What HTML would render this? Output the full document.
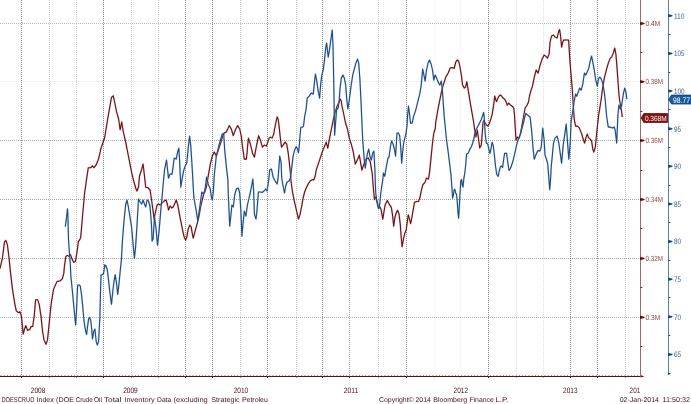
<!DOCTYPE html>
<html><head><meta charset="utf-8"><style>
html,body{margin:0;padding:0;background:#fff;}
body{width:691px;height:404px;overflow:hidden;}
svg{display:block;}
text{font-family:"Liberation Sans",sans-serif;text-rendering:geometricPrecision;}
</style></head><body>
<svg width="691" height="404" viewBox="0 0 691 404">
<rect width="691" height="404" fill="#fff"/>

<g stroke="#666" stroke-width="1" stroke-dasharray="1 1">
<line x1="21.5" y1="0" x2="21.5" y2="376" stroke-opacity="0.8"/>
<line x1="49.5" y1="0" x2="49.5" y2="376" stroke-opacity="0.32"/>
<line x1="76.5" y1="0" x2="76.5" y2="376" stroke-opacity="0.32"/>
<line x1="103.5" y1="0" x2="103.5" y2="376" stroke-opacity="0.8"/>
<line x1="131.5" y1="0" x2="131.5" y2="376" stroke-opacity="0.32"/>
<line x1="158.5" y1="0" x2="158.5" y2="376" stroke-opacity="0.32"/>
<line x1="185.5" y1="0" x2="185.5" y2="376" stroke-opacity="0.8"/>
<line x1="212.5" y1="0" x2="212.5" y2="376" stroke-opacity="0.8"/>
<line x1="240.5" y1="0" x2="240.5" y2="376" stroke-opacity="0.32"/>
<line x1="267.5" y1="0" x2="267.5" y2="376" stroke-opacity="0.8"/>
<line x1="296.5" y1="0" x2="296.5" y2="376" stroke-opacity="0.32"/>
<line x1="322.5" y1="0" x2="322.5" y2="376" stroke-opacity="0.8"/>
<line x1="349.5" y1="0" x2="349.5" y2="376" stroke-opacity="0.55"/>
<line x1="378.5" y1="0" x2="378.5" y2="376" stroke-opacity="0.32"/>
<line x1="406.5" y1="0" x2="406.5" y2="376" stroke-opacity="0.8"/>
<line x1="434.5" y1="0" x2="434.5" y2="376" stroke-opacity="0.07"/>
<line x1="460.5" y1="0" x2="460.5" y2="376" stroke-opacity="0.08"/>
<line x1="488.5" y1="0" x2="488.5" y2="376" stroke-opacity="0.8"/>
<line x1="516.5" y1="0" x2="516.5" y2="376" stroke-opacity="0.21"/>
<line x1="543.5" y1="0" x2="543.5" y2="376" stroke-opacity="0.21"/>
<line x1="570.5" y1="0" x2="570.5" y2="376" stroke-opacity="0.8"/>
<line x1="597.5" y1="0" x2="597.5" y2="376" stroke-opacity="0.8"/>
<line x1="625.5" y1="0" x2="625.5" y2="376" stroke-opacity="0.32"/>
</g>
<g stroke="#666" stroke-width="1" stroke-dasharray="1 1">
<line x1="0" y1="23.5" x2="640.5" y2="23.5" stroke-opacity="0.45"/>
<line x1="0" y1="81.5" x2="640.5" y2="81.5" stroke-opacity="0.15"/>
<line x1="0" y1="140.5" x2="640.5" y2="140.5" stroke-opacity="0.58"/>
<line x1="0" y1="199.5" x2="640.5" y2="199.5" stroke-opacity="0.62"/>
<line x1="0" y1="258.5" x2="640.5" y2="258.5" stroke-opacity="0.62"/>
<line x1="0" y1="317.5" x2="640.5" y2="317.5" stroke-opacity="0.5"/>
</g>
<line x1="0" y1="376.5" x2="640.5" y2="376.5" stroke="#5a1414" stroke-width="1"/>
<line x1="0.5" y1="375.5" x2="640.5" y2="375.5" stroke="#8a4a4a" stroke-width="1" stroke-dasharray="1 2.2" stroke-opacity="0.7"/>
<path d="M640.5 375 L644.5 376.5 L640.5 377.5Z" fill="#6b1a1a"/>
<g stroke="#6b1a1a" stroke-width="1">
<line x1="21.5" y1="376" x2="21.5" y2="378" stroke-opacity="1"/>
<line x1="49.5" y1="376" x2="49.5" y2="378" stroke-opacity="0.52"/>
<line x1="76.5" y1="376" x2="76.5" y2="378" stroke-opacity="0.52"/>
<line x1="103.5" y1="376" x2="103.5" y2="378" stroke-opacity="1"/>
<line x1="131.5" y1="376" x2="131.5" y2="378" stroke-opacity="0.52"/>
<line x1="158.5" y1="376" x2="158.5" y2="378" stroke-opacity="0.52"/>
<line x1="185.5" y1="376" x2="185.5" y2="378" stroke-opacity="1"/>
<line x1="212.5" y1="376" x2="212.5" y2="378" stroke-opacity="1"/>
<line x1="240.5" y1="376" x2="240.5" y2="378" stroke-opacity="0.52"/>
<line x1="267.5" y1="376" x2="267.5" y2="378" stroke-opacity="1"/>
<line x1="296.5" y1="376" x2="296.5" y2="378" stroke-opacity="0.52"/>
<line x1="322.5" y1="376" x2="322.5" y2="378" stroke-opacity="1"/>
<line x1="349.5" y1="376" x2="349.5" y2="378" stroke-opacity="0.75"/>
<line x1="378.5" y1="376" x2="378.5" y2="378" stroke-opacity="0.52"/>
<line x1="406.5" y1="376" x2="406.5" y2="378" stroke-opacity="1"/>
<line x1="434.5" y1="376" x2="434.5" y2="378" stroke-opacity="0.27"/>
<line x1="460.5" y1="376" x2="460.5" y2="378" stroke-opacity="0.28"/>
<line x1="488.5" y1="376" x2="488.5" y2="378" stroke-opacity="1"/>
<line x1="516.5" y1="376" x2="516.5" y2="378" stroke-opacity="0.41000000000000003"/>
<line x1="543.5" y1="376" x2="543.5" y2="378" stroke-opacity="0.41000000000000003"/>
<line x1="570.5" y1="376" x2="570.5" y2="378" stroke-opacity="1"/>
<line x1="597.5" y1="376" x2="597.5" y2="378" stroke-opacity="1"/>
<line x1="625.5" y1="376" x2="625.5" y2="378" stroke-opacity="0.52"/>
</g>
<line x1="640.5" y1="0" x2="640.5" y2="376" stroke="#a06868" stroke-width="1"/>
<path d="M640.0 22.0 L642.0 22.3 L644.5 23.1 L644.5 24.1 L642.0 24.8 L640.0 25.1Z" fill="#6a0a0a"/>
<text x="645.6" y="26.2" font-size="7.4" fill="#934040" textLength="14.6" lengthAdjust="spacingAndGlyphs">0.4M</text>
<path d="M640.0 80.1 L642.0 80.39999999999999 L644.5 81.19999999999999 L644.5 82.19999999999999 L642.0 82.89999999999999 L640.0 83.19999999999999Z" fill="#6a0a0a"/>
<text x="645.6" y="84.3" font-size="7.4" fill="#934040" textLength="17.5" lengthAdjust="spacingAndGlyphs">0.38M</text>
<path d="M640.0 139.0 L642.0 139.3 L644.5 140.1 L644.5 141.1 L642.0 141.8 L640.0 142.1Z" fill="#6a0a0a"/>
<text x="645.6" y="143.2" font-size="7.4" fill="#934040" textLength="17.5" lengthAdjust="spacingAndGlyphs">0.36M</text>
<path d="M640.0 198.0 L642.0 198.3 L644.5 199.1 L644.5 200.1 L642.0 200.8 L640.0 201.1Z" fill="#6a0a0a"/>
<text x="645.6" y="202.2" font-size="7.4" fill="#934040" textLength="17.5" lengthAdjust="spacingAndGlyphs">0.34M</text>
<path d="M640.0 257.0 L642.0 257.3 L644.5 258.1 L644.5 259.1 L642.0 259.8 L640.0 260.1Z" fill="#6a0a0a"/>
<text x="645.6" y="261.2" font-size="7.4" fill="#934040" textLength="17.5" lengthAdjust="spacingAndGlyphs">0.32M</text>
<path d="M640.0 315.8 L642.0 316.1 L644.5 316.90000000000003 L644.5 317.90000000000003 L642.0 318.6 L640.0 318.90000000000003Z" fill="#6a0a0a"/>
<text x="645.6" y="320.0" font-size="7.4" fill="#934040" textLength="14.6" lengthAdjust="spacingAndGlyphs">0.3M</text>
<g stroke="#7a1a1a" stroke-width="1">
<line x1="640.5" y1="52.5" x2="642.3" y2="52.5"/>
<line x1="640.5" y1="111.5" x2="642.3" y2="111.5"/>
<line x1="640.5" y1="170.5" x2="642.3" y2="170.5"/>
<line x1="640.5" y1="228.5" x2="642.3" y2="228.5"/>
<line x1="640.5" y1="287.5" x2="642.3" y2="287.5"/>
<line x1="640.5" y1="346.5" x2="642.3" y2="346.5"/>
</g>
<line x1="668.5" y1="0" x2="668.5" y2="375" stroke="#5283b5" stroke-width="1"/>
<path d="M668.0 373 L670.0 373 L669.0 375.5 Z" fill="#1f4f85"/>
<path d="M668.0 14.2 L670.0 14.5 L672.5 15.299999999999999 L672.5 16.3 L670.0 17.0 L668.0 17.3Z" fill="#1a4a80"/>
<text x="673.9" y="18.7" font-size="8" fill="#3e6088" textLength="10.6" lengthAdjust="spacingAndGlyphs">110</text>
<path d="M668.0 51.83 L670.0 52.129999999999995 L672.5 52.93 L672.5 53.93 L670.0 54.629999999999995 L668.0 54.93Z" fill="#1a4a80"/>
<text x="673.9" y="56.33" font-size="8" fill="#3e6088" textLength="10.6" lengthAdjust="spacingAndGlyphs">105</text>
<path d="M668.0 89.46000000000001 L670.0 89.76 L672.5 90.56 L672.5 91.56 L670.0 92.26 L668.0 92.56Z" fill="#1a4a80"/>
<text x="673.9" y="93.96000000000001" font-size="8" fill="#3e6088" textLength="10.6" lengthAdjust="spacingAndGlyphs">100</text>
<path d="M668.0 127.09 L670.0 127.39 L672.5 128.19 L672.5 129.19 L670.0 129.89000000000001 L668.0 130.19Z" fill="#1a4a80"/>
<text x="673.9" y="131.59" font-size="8" fill="#3e6088" textLength="7.1" lengthAdjust="spacingAndGlyphs">95</text>
<path d="M668.0 164.72 L670.0 165.02 L672.5 165.82 L672.5 166.82 L670.0 167.52 L668.0 167.82Z" fill="#1a4a80"/>
<text x="673.9" y="169.22" font-size="8" fill="#3e6088" textLength="7.1" lengthAdjust="spacingAndGlyphs">90</text>
<path d="M668.0 202.35 L670.0 202.65 L672.5 203.45 L672.5 204.45 L670.0 205.15 L668.0 205.45Z" fill="#1a4a80"/>
<text x="673.9" y="206.85" font-size="8" fill="#3e6088" textLength="7.1" lengthAdjust="spacingAndGlyphs">85</text>
<path d="M668.0 239.98000000000002 L670.0 240.28000000000003 L672.5 241.08 L672.5 242.08 L670.0 242.78000000000003 L668.0 243.08Z" fill="#1a4a80"/>
<text x="673.9" y="244.48000000000002" font-size="8" fill="#3e6088" textLength="7.1" lengthAdjust="spacingAndGlyphs">80</text>
<path d="M668.0 277.61 L670.0 277.91 L672.5 278.71000000000004 L672.5 279.71000000000004 L670.0 280.41 L668.0 280.71000000000004Z" fill="#1a4a80"/>
<text x="673.9" y="282.11" font-size="8" fill="#3e6088" textLength="7.1" lengthAdjust="spacingAndGlyphs">75</text>
<path d="M668.0 315.24 L670.0 315.54 L672.5 316.34000000000003 L672.5 317.34000000000003 L670.0 318.04 L668.0 318.34000000000003Z" fill="#1a4a80"/>
<text x="673.9" y="319.74" font-size="8" fill="#3e6088" textLength="7.1" lengthAdjust="spacingAndGlyphs">70</text>
<path d="M668.0 352.87 L670.0 353.17 L672.5 353.97 L672.5 354.97 L670.0 355.67 L668.0 355.97Z" fill="#1a4a80"/>
<text x="673.9" y="357.37" font-size="8" fill="#3e6088" textLength="7.1" lengthAdjust="spacingAndGlyphs">65</text>
<g stroke="#1f4f85" stroke-width="1">
<line x1="668.5" y1="34.5" x2="670.3" y2="34.5"/>
<line x1="668.5" y1="72.5" x2="670.3" y2="72.5"/>
<line x1="668.5" y1="109.5" x2="670.3" y2="109.5"/>
<line x1="668.5" y1="147.5" x2="670.3" y2="147.5"/>
<line x1="668.5" y1="185.5" x2="670.3" y2="185.5"/>
<line x1="668.5" y1="222.5" x2="670.3" y2="222.5"/>
<line x1="668.5" y1="260.5" x2="670.3" y2="260.5"/>
<line x1="668.5" y1="297.5" x2="670.3" y2="297.5"/>
<line x1="668.5" y1="335.5" x2="670.3" y2="335.5"/>
<line x1="668.5" y1="373.5" x2="670.3" y2="373.5"/>
</g>
<polyline points="0.0,268.6 2.4,258.2 4.5,241.9 5.9,240.4 7.4,244.8 8.9,256.7 10.4,271.6 12.5,289.4 14.9,304.3 16.3,310.8 18.4,312.6 19.9,311.7 21.4,316.1 22.3,325.0 23.2,334.0 24.4,329.5 25.8,325.6 27.6,330.4 29.7,329.5 31.2,326.5 32.7,326.5 34.2,316.1 35.6,299.8 37.7,299.8 39.2,304.3 41.0,316.1 42.5,331.0 44.0,339.9 46.0,344.3 47.5,339.9 49.0,325.0 51.1,304.3 53.5,289.4 56.4,282.9 57.1,281.4 60.3,280.8 62.4,278.7 63.8,273.4 64.5,265.3 65.9,256.4 67.3,255.4 68.9,256.4 70.4,254.5 71.8,258.4 73.8,262.4 75.4,261.4 76.8,253.5 78.4,241.6 79.8,239.6 80.7,237.6 81.7,225.7 83.1,209.7 84.6,193.0 86.8,177.6 88.3,167.7 90.8,167.7 92.3,165.9 93.9,167.7 96.0,165.2 98.5,159.1 101.0,148.3 103.1,142.1 104.7,137.5 107.2,122.0 109.3,109.7 111.5,97.3 113.3,95.8 114.6,102.0 116.4,111.2 118.6,119.0 120.1,129.8 121.7,122.0 123.2,131.3 125.7,142.1 127.8,152.9 130.0,164.1 132.0,174.1 134.0,182.1 136.0,189.0 137.0,191.0 138.5,187.0 139.5,176.0 141.1,171.1 143.1,164.1 144.5,176.1 145.7,187.2 148.1,187.8 150.1,190.2 151.7,201.0 153.1,211.1 154.1,219.1 155.7,211.1 157.1,205.0 158.5,204.0 160.1,205.0 162.1,203.0 164.1,201.0 166.1,200.0 167.5,205.0 168.5,210.0 170.1,206.0 171.7,208.0 173.1,207.0 174.6,204.0 176.2,200.0 177.8,205.0 179.6,215.1 181.2,223.1 182.8,231.1 184.2,237.1 185.6,240.1 186.8,237.1 188.2,229.1 189.8,225.1 191.2,227.1 192.2,233.1 193.2,238.1 194.6,233.1 196.2,227.1 197.8,221.1 199.2,215.1 200.6,207.0 202.2,200.0 203.8,194.0 205.2,191.0 206.6,186.0 208.2,176.1 210.3,164.1 212.3,156.1 214.3,152.1 216.3,156.1 218.3,150.1 220.3,144.1 222.7,136.1 224.3,133.0 226.3,132.0 229.3,125.6 231.3,129.0 233.3,135.7 235.3,130.0 237.7,125.6 239.7,129.0 241.3,136.1 242.7,148.1 244.3,159.1 246.4,159.1 248.4,138.1 250.4,144.1 252.8,154.1 254.4,157.1 256.4,146.1 258.6,135.7 260.4,140.1 262.4,147.1 264.4,145.1 266.4,146.1 269.1,138.1 270.5,137.1 272.1,138.1 273.7,134.1 275.1,126.1 277.1,117.0 278.1,119.0 279.1,126.1 280.1,136.1 281.5,147.1 283.1,145.1 285.1,142.1 286.7,144.1 288.1,152.1 289.5,164.1 290.5,174.1 291.1,182.0 292.5,192.0 294.1,200.1 295.7,207.1 297.1,213.1 298.5,219.1 300.1,214.1 301.7,206.1 303.1,198.1 304.6,192.0 306.2,188.0 308.2,184.0 310.2,181.0 312.2,179.6 313.8,180.0 315.2,176.0 316.2,170.1 318.2,164.1 320.2,158.1 322.2,152.1 324.2,147.1 326.2,142.1 327.8,148.1 329.2,140.1 331.2,130.1 333.2,120.0 335.2,112.0 337.2,106.0 339.2,102.0 340.3,99.1 341.3,101.2 341.9,106.0 343.3,112.0 345.3,122.0 347.7,130.1 349.3,138.1 351.3,144.1 353.3,152.1 355.3,164.1 357.3,160.1 359.3,155.1 361.9,170.1 363.9,164.1 365.9,159.1 368.3,158.1 370.3,162.1 372.3,174.1 372.7,180.0 373.6,190.7 374.5,199.6 375.7,196.9 377.1,201.4 378.6,208.5 379.8,206.7 381.0,209.4 382.8,219.2 383.9,212.1 385.1,205.0 387.3,200.5 389.2,204.1 391.4,207.6 392.6,215.6 393.7,226.3 394.9,217.4 396.2,213.0 397.6,210.3 399.0,213.9 400.3,224.6 401.2,237.0 402.1,246.8 403.5,238.8 404.7,233.5 406.2,229.9 407.4,221.0 408.3,214.8 409.5,219.2 410.6,223.7 411.9,217.4 413.1,210.3 414.5,202.3 416.7,201.4 418.5,201.4 419.9,197.8 421.3,190.7 422.9,184.5 424.9,182.7 426.5,178.1 428.5,179.1 429.7,171.1 431.1,157.1 432.5,143.0 433.8,133.0 435.2,129.0 435.8,122.1 437.8,110.1 439.8,100.1 441.8,90.1 443.8,83.1 445.8,77.1 448.2,73.0 450.2,68.0 452.2,67.6 454.2,68.4 455.8,62.0 457.2,60.0 458.6,61.0 459.8,66.0 461.2,74.0 462.6,85.1 464.2,88.1 465.6,87.1 466.8,81.7 468.2,90.1 469.8,100.1 471.7,111.2 473.2,119.4 474.7,130.0 475.9,137.0 477.3,130.0 478.7,140.0 479.7,148.0 481.3,145.0 482.5,130.0 483.1,122.4 483.8,120.4 484.9,122.4 486.4,125.0 487.9,126.0 489.4,123.4 490.4,120.4 492.0,115.3 493.0,109.2 494.0,102.1 494.7,96.0 495.5,99.1 496.5,101.6 497.5,99.1 499.1,96.0 500.1,95.0 501.6,96.0 502.6,97.5 504.6,99.1 506.2,102.1 507.2,105.2 508.7,103.1 510.7,105.2 512.8,106.7 513.8,108.2 514.5,115.3 515.1,125.5 516.0,140.1 517.4,137.1 519.0,138.1 520.6,133.1 522.0,125.1 523.5,117.0 525.1,108.0 527.0,105.2 528.5,102.0 529.5,96.0 531.1,90.1 532.5,86.1 534.1,78.1 536.1,70.1 538.1,73.1 540.1,65.1 542.1,59.1 544.1,55.1 545.7,56.1 547.5,58.1 549.1,54.1 550.1,42.0 551.5,36.0 553.5,35.0 555.1,37.0 557.1,38.0 558.8,31.0 559.6,29.6 560.6,36.0 561.6,47.1 562.8,42.0 563.8,40.0 566.2,40.0 568.6,40.0 569.6,56.1 570.8,72.1 572.2,88.1 573.2,104.0 574.2,119.0 575.6,126.1 577.2,126.1 578.8,127.1 580.2,130.1 581.8,134.1 583.2,139.1 584.6,143.1 585.8,138.1 587.2,134.1 588.8,138.1 590.2,139.1 591.6,141.1 592.8,149.1 593.8,152.1 595.3,147.1 596.3,137.1 597.3,127.1 598.7,115.0 600.3,105.0 601.5,97.0 602.3,90.1 604.3,78.1 606.3,70.1 608.3,63.1 610.3,58.1 611.7,57.1 613.3,53.1 614.7,48.1 615.9,54.1 616.9,66.1 617.9,80.1 618.9,94.1 619.7,101.0 620.9,107.0 622.3,117.0" fill="none" stroke="#d06060" stroke-opacity="0.4" stroke-width="1.8" stroke-linejoin="round"/>
<polyline points="0.0,268.6 2.4,258.2 4.5,241.9 5.9,240.4 7.4,244.8 8.9,256.7 10.4,271.6 12.5,289.4 14.9,304.3 16.3,310.8 18.4,312.6 19.9,311.7 21.4,316.1 22.3,325.0 23.2,334.0 24.4,329.5 25.8,325.6 27.6,330.4 29.7,329.5 31.2,326.5 32.7,326.5 34.2,316.1 35.6,299.8 37.7,299.8 39.2,304.3 41.0,316.1 42.5,331.0 44.0,339.9 46.0,344.3 47.5,339.9 49.0,325.0 51.1,304.3 53.5,289.4 56.4,282.9 57.1,281.4 60.3,280.8 62.4,278.7 63.8,273.4 64.5,265.3 65.9,256.4 67.3,255.4 68.9,256.4 70.4,254.5 71.8,258.4 73.8,262.4 75.4,261.4 76.8,253.5 78.4,241.6 79.8,239.6 80.7,237.6 81.7,225.7 83.1,209.7 84.6,193.0 86.8,177.6 88.3,167.7 90.8,167.7 92.3,165.9 93.9,167.7 96.0,165.2 98.5,159.1 101.0,148.3 103.1,142.1 104.7,137.5 107.2,122.0 109.3,109.7 111.5,97.3 113.3,95.8 114.6,102.0 116.4,111.2 118.6,119.0 120.1,129.8 121.7,122.0 123.2,131.3 125.7,142.1 127.8,152.9 130.0,164.1 132.0,174.1 134.0,182.1 136.0,189.0 137.0,191.0 138.5,187.0 139.5,176.0 141.1,171.1 143.1,164.1 144.5,176.1 145.7,187.2 148.1,187.8 150.1,190.2 151.7,201.0 153.1,211.1 154.1,219.1 155.7,211.1 157.1,205.0 158.5,204.0 160.1,205.0 162.1,203.0 164.1,201.0 166.1,200.0 167.5,205.0 168.5,210.0 170.1,206.0 171.7,208.0 173.1,207.0 174.6,204.0 176.2,200.0 177.8,205.0 179.6,215.1 181.2,223.1 182.8,231.1 184.2,237.1 185.6,240.1 186.8,237.1 188.2,229.1 189.8,225.1 191.2,227.1 192.2,233.1 193.2,238.1 194.6,233.1 196.2,227.1 197.8,221.1 199.2,215.1 200.6,207.0 202.2,200.0 203.8,194.0 205.2,191.0 206.6,186.0 208.2,176.1 210.3,164.1 212.3,156.1 214.3,152.1 216.3,156.1 218.3,150.1 220.3,144.1 222.7,136.1 224.3,133.0 226.3,132.0 229.3,125.6 231.3,129.0 233.3,135.7 235.3,130.0 237.7,125.6 239.7,129.0 241.3,136.1 242.7,148.1 244.3,159.1 246.4,159.1 248.4,138.1 250.4,144.1 252.8,154.1 254.4,157.1 256.4,146.1 258.6,135.7 260.4,140.1 262.4,147.1 264.4,145.1 266.4,146.1 269.1,138.1 270.5,137.1 272.1,138.1 273.7,134.1 275.1,126.1 277.1,117.0 278.1,119.0 279.1,126.1 280.1,136.1 281.5,147.1 283.1,145.1 285.1,142.1 286.7,144.1 288.1,152.1 289.5,164.1 290.5,174.1 291.1,182.0 292.5,192.0 294.1,200.1 295.7,207.1 297.1,213.1 298.5,219.1 300.1,214.1 301.7,206.1 303.1,198.1 304.6,192.0 306.2,188.0 308.2,184.0 310.2,181.0 312.2,179.6 313.8,180.0 315.2,176.0 316.2,170.1 318.2,164.1 320.2,158.1 322.2,152.1 324.2,147.1 326.2,142.1 327.8,148.1 329.2,140.1 331.2,130.1 333.2,120.0 335.2,112.0 337.2,106.0 339.2,102.0 340.3,99.1 341.3,101.2 341.9,106.0 343.3,112.0 345.3,122.0 347.7,130.1 349.3,138.1 351.3,144.1 353.3,152.1 355.3,164.1 357.3,160.1 359.3,155.1 361.9,170.1 363.9,164.1 365.9,159.1 368.3,158.1 370.3,162.1 372.3,174.1 372.7,180.0 373.6,190.7 374.5,199.6 375.7,196.9 377.1,201.4 378.6,208.5 379.8,206.7 381.0,209.4 382.8,219.2 383.9,212.1 385.1,205.0 387.3,200.5 389.2,204.1 391.4,207.6 392.6,215.6 393.7,226.3 394.9,217.4 396.2,213.0 397.6,210.3 399.0,213.9 400.3,224.6 401.2,237.0 402.1,246.8 403.5,238.8 404.7,233.5 406.2,229.9 407.4,221.0 408.3,214.8 409.5,219.2 410.6,223.7 411.9,217.4 413.1,210.3 414.5,202.3 416.7,201.4 418.5,201.4 419.9,197.8 421.3,190.7 422.9,184.5 424.9,182.7 426.5,178.1 428.5,179.1 429.7,171.1 431.1,157.1 432.5,143.0 433.8,133.0 435.2,129.0 435.8,122.1 437.8,110.1 439.8,100.1 441.8,90.1 443.8,83.1 445.8,77.1 448.2,73.0 450.2,68.0 452.2,67.6 454.2,68.4 455.8,62.0 457.2,60.0 458.6,61.0 459.8,66.0 461.2,74.0 462.6,85.1 464.2,88.1 465.6,87.1 466.8,81.7 468.2,90.1 469.8,100.1 471.7,111.2 473.2,119.4 474.7,130.0 475.9,137.0 477.3,130.0 478.7,140.0 479.7,148.0 481.3,145.0 482.5,130.0 483.1,122.4 483.8,120.4 484.9,122.4 486.4,125.0 487.9,126.0 489.4,123.4 490.4,120.4 492.0,115.3 493.0,109.2 494.0,102.1 494.7,96.0 495.5,99.1 496.5,101.6 497.5,99.1 499.1,96.0 500.1,95.0 501.6,96.0 502.6,97.5 504.6,99.1 506.2,102.1 507.2,105.2 508.7,103.1 510.7,105.2 512.8,106.7 513.8,108.2 514.5,115.3 515.1,125.5 516.0,140.1 517.4,137.1 519.0,138.1 520.6,133.1 522.0,125.1 523.5,117.0 525.1,108.0 527.0,105.2 528.5,102.0 529.5,96.0 531.1,90.1 532.5,86.1 534.1,78.1 536.1,70.1 538.1,73.1 540.1,65.1 542.1,59.1 544.1,55.1 545.7,56.1 547.5,58.1 549.1,54.1 550.1,42.0 551.5,36.0 553.5,35.0 555.1,37.0 557.1,38.0 558.8,31.0 559.6,29.6 560.6,36.0 561.6,47.1 562.8,42.0 563.8,40.0 566.2,40.0 568.6,40.0 569.6,56.1 570.8,72.1 572.2,88.1 573.2,104.0 574.2,119.0 575.6,126.1 577.2,126.1 578.8,127.1 580.2,130.1 581.8,134.1 583.2,139.1 584.6,143.1 585.8,138.1 587.2,134.1 588.8,138.1 590.2,139.1 591.6,141.1 592.8,149.1 593.8,152.1 595.3,147.1 596.3,137.1 597.3,127.1 598.7,115.0 600.3,105.0 601.5,97.0 602.3,90.1 604.3,78.1 606.3,70.1 608.3,63.1 610.3,58.1 611.7,57.1 613.3,53.1 614.7,48.1 615.9,54.1 616.9,66.1 617.9,80.1 618.9,94.1 619.7,101.0 620.9,107.0 622.3,117.0" fill="none" stroke="#620e12" stroke-width="1.05" stroke-linejoin="round"/>
<polyline points="65.3,226.7 66.5,217.8 67.5,208.9 67.9,215.8 68.5,239.6 69.3,251.5 70.4,265.3 70.8,275.5 72.3,290.3 73.5,302.9 74.6,314.5 75.6,325.0 76.5,311.3 77.1,296.6 77.7,285.0 79.2,285.0 80.3,286.1 81.5,294.5 82.8,307.1 84.1,321.8 85.5,330.3 86.6,334.5 87.6,326.1 88.7,318.7 89.7,317.6 90.8,320.8 91.8,330.3 92.5,338.9 93.7,331.5 94.9,329.0 96.2,341.4 97.4,345.1 98.6,341.4 99.9,316.7 100.6,287.0 101.1,274.7 102.3,274.7 103.6,273.5 104.8,264.8 106.0,266.0 107.3,269.8 108.5,279.6 109.8,292.0 111.5,304.3 112.7,292.0 113.9,282.1 115.2,274.7 116.4,282.1 117.7,294.4 118.9,284.6 120.1,272.2 121.4,259.9 122.4,241.1 124.0,221.1 125.6,205.0 127.0,200.0 128.4,207.0 130.0,217.1 131.6,227.1 133.0,243.1 134.4,258.1 135.6,247.1 137.0,225.1 138.5,199.0 140.1,202.0 141.7,204.0 143.1,200.0 144.5,204.0 145.7,207.0 147.1,200.0 148.5,201.0 150.1,207.0 151.5,225.1 152.1,241.1 153.1,239.1 154.5,217.1 156.1,229.1 157.5,245.1 159.1,231.1 160.7,211.1 162.1,197.0 163.1,185.0 164.5,170.1 166.5,160.1 168.5,178.1 170.1,174.1 172.1,174.1 174.2,158.1 176.2,159.1 177.6,152.1 178.8,148.1 179.6,160.1 180.8,187.2 182.2,178.1 183.8,170.1 185.2,166.1 186.8,163.1 188.2,148.1 189.6,136.1 190.8,146.1 192.2,168.1 193.8,197.0 195.2,205.0 196.6,213.1 197.8,221.1 199.2,211.1 200.6,201.0 201.8,192.0 203.2,194.0 204.6,191.0 205.2,188.2 206.6,177.1 208.2,184.1 210.3,189.0 211.3,197.0 212.3,200.0 213.3,192.0 214.3,175.0 216.3,156.1 218.3,148.1 220.3,140.1 222.3,134.0 223.7,133.6 224.7,150.1 226.3,166.1 227.9,180.1 228.3,195.0 229.7,226.1 230.9,215.1 231.9,205.0 233.3,207.0 234.7,195.0 236.3,189.0 238.3,188.0 239.7,193.0 240.9,211.1 241.9,236.1 242.9,225.1 244.3,211.1 245.9,216.1 247.4,205.0 248.8,199.0 250.0,194.0 251.6,186.0 252.8,179.0 253.6,190.0 254.4,214.1 256.0,219.1 257.0,210.1 258.4,192.0 260.0,192.0 262.4,192.4 264.0,191.0 265.6,189.0 267.0,191.0 268.5,182.0 269.7,170.0 271.5,169.1 273.1,177.0 275.1,181.0 277.1,184.0 278.1,178.2 279.7,156.1 281.1,162.1 281.7,178.0 283.1,186.0 284.5,193.0 285.7,186.0 287.1,182.0 289.1,181.0 290.5,178.0 291.7,168.1 293.1,156.1 294.8,149.7 296.1,146.6 297.3,148.4 298.5,152.8 299.4,144.7 300.1,134.8 300.8,127.3 302.3,127.3 303.5,126.1 304.1,121.2 304.7,116.2 306.0,110.0 307.2,98.1 309.2,96.1 311.2,93.1 313.2,94.1 314.2,85.1 315.4,74.1 316.8,81.1 318.2,91.1 319.6,98.1 320.6,85.1 321.8,75.1 323.2,70.1 324.6,59.1 325.8,47.0 326.6,43.0 328.2,57.1 329.6,49.0 331.2,37.0 332.2,30.0 333.0,45.0 333.8,85.1 334.6,135.1 335.8,120.0 336.6,110.0 338.2,108.0 339.2,100.0 339.9,90.0 341.3,78.1 342.9,75.1 344.3,78.1 345.7,85.1 346.7,99.1 347.9,109.0 349.3,100.0 350.9,87.1 352.7,75.1 354.3,69.1 355.9,63.1 357.5,59.1 358.7,63.1 359.9,79.1 360.9,99.1 361.6,115.0 362.7,140.1 364.3,160.1 365.3,168.1 366.3,160.1 367.3,154.1 368.7,149.1 369.9,156.1 371.3,160.1 372.7,153.1 373.9,151.1 374.8,168.1 375.7,192.5 376.8,201.4 378.0,206.7 378.9,208.5 379.8,203.2 380.7,194.3 381.6,187.1 382.8,180.0 383.4,173.1 384.8,176.2 386.4,166.1 388.0,158.1 389.0,157.1 390.4,147.0 391.6,141.0 393.0,144.0 394.4,149.0 395.6,156.1 397.0,133.0 398.5,133.0 399.7,136.0 400.7,147.0 401.7,163.1 402.7,151.1 403.7,143.0 405.1,137.0 406.1,133.0 407.1,125.0 407.5,116.1 408.5,106.1 409.5,114.1 410.5,123.1 412.1,123.1 413.7,116.1 415.7,110.1 417.7,102.1 419.7,94.1 421.1,86.1 422.7,69.0 423.7,74.0 425.1,81.1 426.5,70.0 428.1,63.0 429.5,60.0 431.1,64.0 432.5,70.0 433.8,80.1 435.2,75.0 436.6,78.1 438.2,82.1 439.8,85.1 441.2,81.1 442.2,88.1 443.2,102.1 444.2,116.1 445.2,126.2 446.2,137.0 447.8,149.0 449.2,160.1 450.4,170.0 451.2,177.4 451.9,187.8 452.6,198.2 453.4,195.2 454.1,190.0 454.9,189.3 455.6,193.0 456.4,193.8 457.1,199.7 457.8,210.1 458.6,218.3 459.3,207.1 460.1,192.3 460.8,180.4 461.6,179.7 462.3,184.9 463.0,187.1 463.8,178.9 464.8,173.0 465.6,166.0 466.6,154.1 468.2,153.1 469.9,149.0 471.3,147.0 472.7,143.0 474.3,137.0 474.7,133.6 475.7,130.0 476.7,128.5 478.3,125.5 479.8,122.4 481.3,119.4 482.8,115.3 483.6,112.3 484.1,115.3 484.7,125.5 485.3,135.0 486.3,143.0 487.7,144.0 489.3,151.1 490.0,153.4 491.2,147.4 492.2,142.2 493.3,145.9 494.5,156.3 495.6,166.7 496.7,174.2 498.2,176.4 499.2,171.2 500.4,166.7 501.6,166.0 502.6,167.5 503.7,159.3 504.6,153.4 506.6,153.4 507.8,162.3 509.0,170.4 510.1,169.0 511.1,166.7 512.6,162.3 514.1,156.3 515.6,149.7 516.7,144.5 517.9,140.0 519.0,138.1 520.9,132.6 522.1,127.5 523.4,123.4 524.7,117.3 525.9,113.3 527.5,114.8 529.0,116.3 530.1,117.0 531.5,129.1 532.4,140.0 533.1,148.9 534.3,159.3 535.3,156.3 536.8,152.6 538.3,150.4 539.8,151.1 541.3,147.0 542.7,128.0 544.1,140.0 545.0,154.9 546.5,159.3 547.7,163.8 548.4,172.7 549.1,181.6 549.7,189.8 550.5,180.1 551.2,166.7 552.4,154.9 553.5,143.1 555.1,138.1 557.1,136.1 558.8,143.1 560.2,153.1 561.6,163.1 563.2,145.1 564.6,135.1 566.2,124.1 567.6,143.1 568.8,159.1 570.2,143.1 571.2,121.1 572.8,111.0 574.2,101.0 575.6,94.1 576.8,96.2 578.2,92.1 579.6,88.1 581.2,90.1 582.8,84.1 584.4,73.1 585.8,75.1 587.2,72.1 588.8,68.1 590.2,61.1 591.6,56.1 592.8,62.1 594.3,70.1 595.7,80.1 597.3,86.1 598.7,78.1 599.9,77.1 601.3,79.1 602.9,84.1 604.3,92.1 605.3,101.0 606.7,117.0 608.3,127.1 610.3,127.1 612.3,128.1 614.3,127.1 615.3,131.1 616.7,143.1 617.9,115.0 618.9,105.0 620.3,109.0 621.7,105.0 623.3,94.1 624.7,88.1 625.9,92.1 626.9,99.2" fill="none" stroke="#80b8e8" stroke-opacity="0.45" stroke-width="1.8" stroke-linejoin="round"/>
<polyline points="65.3,226.7 66.5,217.8 67.5,208.9 67.9,215.8 68.5,239.6 69.3,251.5 70.4,265.3 70.8,275.5 72.3,290.3 73.5,302.9 74.6,314.5 75.6,325.0 76.5,311.3 77.1,296.6 77.7,285.0 79.2,285.0 80.3,286.1 81.5,294.5 82.8,307.1 84.1,321.8 85.5,330.3 86.6,334.5 87.6,326.1 88.7,318.7 89.7,317.6 90.8,320.8 91.8,330.3 92.5,338.9 93.7,331.5 94.9,329.0 96.2,341.4 97.4,345.1 98.6,341.4 99.9,316.7 100.6,287.0 101.1,274.7 102.3,274.7 103.6,273.5 104.8,264.8 106.0,266.0 107.3,269.8 108.5,279.6 109.8,292.0 111.5,304.3 112.7,292.0 113.9,282.1 115.2,274.7 116.4,282.1 117.7,294.4 118.9,284.6 120.1,272.2 121.4,259.9 122.4,241.1 124.0,221.1 125.6,205.0 127.0,200.0 128.4,207.0 130.0,217.1 131.6,227.1 133.0,243.1 134.4,258.1 135.6,247.1 137.0,225.1 138.5,199.0 140.1,202.0 141.7,204.0 143.1,200.0 144.5,204.0 145.7,207.0 147.1,200.0 148.5,201.0 150.1,207.0 151.5,225.1 152.1,241.1 153.1,239.1 154.5,217.1 156.1,229.1 157.5,245.1 159.1,231.1 160.7,211.1 162.1,197.0 163.1,185.0 164.5,170.1 166.5,160.1 168.5,178.1 170.1,174.1 172.1,174.1 174.2,158.1 176.2,159.1 177.6,152.1 178.8,148.1 179.6,160.1 180.8,187.2 182.2,178.1 183.8,170.1 185.2,166.1 186.8,163.1 188.2,148.1 189.6,136.1 190.8,146.1 192.2,168.1 193.8,197.0 195.2,205.0 196.6,213.1 197.8,221.1 199.2,211.1 200.6,201.0 201.8,192.0 203.2,194.0 204.6,191.0 205.2,188.2 206.6,177.1 208.2,184.1 210.3,189.0 211.3,197.0 212.3,200.0 213.3,192.0 214.3,175.0 216.3,156.1 218.3,148.1 220.3,140.1 222.3,134.0 223.7,133.6 224.7,150.1 226.3,166.1 227.9,180.1 228.3,195.0 229.7,226.1 230.9,215.1 231.9,205.0 233.3,207.0 234.7,195.0 236.3,189.0 238.3,188.0 239.7,193.0 240.9,211.1 241.9,236.1 242.9,225.1 244.3,211.1 245.9,216.1 247.4,205.0 248.8,199.0 250.0,194.0 251.6,186.0 252.8,179.0 253.6,190.0 254.4,214.1 256.0,219.1 257.0,210.1 258.4,192.0 260.0,192.0 262.4,192.4 264.0,191.0 265.6,189.0 267.0,191.0 268.5,182.0 269.7,170.0 271.5,169.1 273.1,177.0 275.1,181.0 277.1,184.0 278.1,178.2 279.7,156.1 281.1,162.1 281.7,178.0 283.1,186.0 284.5,193.0 285.7,186.0 287.1,182.0 289.1,181.0 290.5,178.0 291.7,168.1 293.1,156.1 294.8,149.7 296.1,146.6 297.3,148.4 298.5,152.8 299.4,144.7 300.1,134.8 300.8,127.3 302.3,127.3 303.5,126.1 304.1,121.2 304.7,116.2 306.0,110.0 307.2,98.1 309.2,96.1 311.2,93.1 313.2,94.1 314.2,85.1 315.4,74.1 316.8,81.1 318.2,91.1 319.6,98.1 320.6,85.1 321.8,75.1 323.2,70.1 324.6,59.1 325.8,47.0 326.6,43.0 328.2,57.1 329.6,49.0 331.2,37.0 332.2,30.0 333.0,45.0 333.8,85.1 334.6,135.1 335.8,120.0 336.6,110.0 338.2,108.0 339.2,100.0 339.9,90.0 341.3,78.1 342.9,75.1 344.3,78.1 345.7,85.1 346.7,99.1 347.9,109.0 349.3,100.0 350.9,87.1 352.7,75.1 354.3,69.1 355.9,63.1 357.5,59.1 358.7,63.1 359.9,79.1 360.9,99.1 361.6,115.0 362.7,140.1 364.3,160.1 365.3,168.1 366.3,160.1 367.3,154.1 368.7,149.1 369.9,156.1 371.3,160.1 372.7,153.1 373.9,151.1 374.8,168.1 375.7,192.5 376.8,201.4 378.0,206.7 378.9,208.5 379.8,203.2 380.7,194.3 381.6,187.1 382.8,180.0 383.4,173.1 384.8,176.2 386.4,166.1 388.0,158.1 389.0,157.1 390.4,147.0 391.6,141.0 393.0,144.0 394.4,149.0 395.6,156.1 397.0,133.0 398.5,133.0 399.7,136.0 400.7,147.0 401.7,163.1 402.7,151.1 403.7,143.0 405.1,137.0 406.1,133.0 407.1,125.0 407.5,116.1 408.5,106.1 409.5,114.1 410.5,123.1 412.1,123.1 413.7,116.1 415.7,110.1 417.7,102.1 419.7,94.1 421.1,86.1 422.7,69.0 423.7,74.0 425.1,81.1 426.5,70.0 428.1,63.0 429.5,60.0 431.1,64.0 432.5,70.0 433.8,80.1 435.2,75.0 436.6,78.1 438.2,82.1 439.8,85.1 441.2,81.1 442.2,88.1 443.2,102.1 444.2,116.1 445.2,126.2 446.2,137.0 447.8,149.0 449.2,160.1 450.4,170.0 451.2,177.4 451.9,187.8 452.6,198.2 453.4,195.2 454.1,190.0 454.9,189.3 455.6,193.0 456.4,193.8 457.1,199.7 457.8,210.1 458.6,218.3 459.3,207.1 460.1,192.3 460.8,180.4 461.6,179.7 462.3,184.9 463.0,187.1 463.8,178.9 464.8,173.0 465.6,166.0 466.6,154.1 468.2,153.1 469.9,149.0 471.3,147.0 472.7,143.0 474.3,137.0 474.7,133.6 475.7,130.0 476.7,128.5 478.3,125.5 479.8,122.4 481.3,119.4 482.8,115.3 483.6,112.3 484.1,115.3 484.7,125.5 485.3,135.0 486.3,143.0 487.7,144.0 489.3,151.1 490.0,153.4 491.2,147.4 492.2,142.2 493.3,145.9 494.5,156.3 495.6,166.7 496.7,174.2 498.2,176.4 499.2,171.2 500.4,166.7 501.6,166.0 502.6,167.5 503.7,159.3 504.6,153.4 506.6,153.4 507.8,162.3 509.0,170.4 510.1,169.0 511.1,166.7 512.6,162.3 514.1,156.3 515.6,149.7 516.7,144.5 517.9,140.0 519.0,138.1 520.9,132.6 522.1,127.5 523.4,123.4 524.7,117.3 525.9,113.3 527.5,114.8 529.0,116.3 530.1,117.0 531.5,129.1 532.4,140.0 533.1,148.9 534.3,159.3 535.3,156.3 536.8,152.6 538.3,150.4 539.8,151.1 541.3,147.0 542.7,128.0 544.1,140.0 545.0,154.9 546.5,159.3 547.7,163.8 548.4,172.7 549.1,181.6 549.7,189.8 550.5,180.1 551.2,166.7 552.4,154.9 553.5,143.1 555.1,138.1 557.1,136.1 558.8,143.1 560.2,153.1 561.6,163.1 563.2,145.1 564.6,135.1 566.2,124.1 567.6,143.1 568.8,159.1 570.2,143.1 571.2,121.1 572.8,111.0 574.2,101.0 575.6,94.1 576.8,96.2 578.2,92.1 579.6,88.1 581.2,90.1 582.8,84.1 584.4,73.1 585.8,75.1 587.2,72.1 588.8,68.1 590.2,61.1 591.6,56.1 592.8,62.1 594.3,70.1 595.7,80.1 597.3,86.1 598.7,78.1 599.9,77.1 601.3,79.1 602.9,84.1 604.3,92.1 605.3,101.0 606.7,117.0 608.3,127.1 610.3,127.1 612.3,128.1 614.3,127.1 615.3,131.1 616.7,143.1 617.9,115.0 618.9,105.0 620.3,109.0 621.7,105.0 623.3,94.1 624.7,88.1 625.9,92.1 626.9,99.2" fill="none" stroke="#1f4a80" stroke-width="1.1" stroke-linejoin="round"/>
<path d="M641.2 118 L643.8 113.6 L667.6 113.6 L667.6 122.4 L643.8 122.4 Z" fill="#841212" stroke="#5a0808" stroke-width="0.8"/>
<text x="644.9" y="120.9" font-size="7.4" fill="#fff" textLength="21.8" lengthAdjust="spacingAndGlyphs">0.368M</text>
<path d="M668.7 99.5 L671.4 95.1 L692 95.1 L692 104 L671.4 104 Z" fill="#1c5a9e" stroke="#0e3a70" stroke-width="0.8"/>
<text x="673" y="102.9" font-size="8" fill="#fff" textLength="17" lengthAdjust="spacingAndGlyphs">98.77</text>
<text x="30.8" y="392.7" font-size="7.8" fill="#4a1018" textLength="14.5" lengthAdjust="spacingAndGlyphs">2008</text>
<text x="123.2" y="392.7" font-size="7.8" fill="#4a1018" textLength="14.5" lengthAdjust="spacingAndGlyphs">2009</text>
<text x="233.7" y="392.7" font-size="7.8" fill="#4a1018" textLength="14.5" lengthAdjust="spacingAndGlyphs">2010</text>
<text x="343.7" y="392.7" font-size="7.8" fill="#4a1018" textLength="14.5" lengthAdjust="spacingAndGlyphs">2011</text>
<text x="453.6" y="392.7" font-size="7.8" fill="#4a1018" textLength="14.5" lengthAdjust="spacingAndGlyphs">2012</text>
<text x="563.1" y="392.7" font-size="7.8" fill="#4a1018" textLength="14.5" lengthAdjust="spacingAndGlyphs">2013</text>
<text x="629.6" y="392.7" font-size="7.8" fill="#4a1018" textLength="10.6" lengthAdjust="spacingAndGlyphs">201</text>
<g font-size="7" fill="#4a1014">
<text x="1.4" y="402" textLength="32.9" lengthAdjust="spacingAndGlyphs">DOESCRUD</text>
<text x="36.6" y="402" textLength="17.2" lengthAdjust="spacingAndGlyphs">Index</text>
<text x="56.1" y="402" textLength="18.0" lengthAdjust="spacingAndGlyphs">(DOE</text>
<text x="75.7" y="402" textLength="17.2" lengthAdjust="spacingAndGlyphs">Crude</text>
<text x="94.0" y="402" textLength="7.9" lengthAdjust="spacingAndGlyphs">Oil</text>
<text x="103.9" y="402" textLength="17.5" lengthAdjust="spacingAndGlyphs">Total</text>
<text x="124.4" y="402" textLength="30.3" lengthAdjust="spacingAndGlyphs">Inventory</text>
<text x="157.0" y="402" textLength="14.3" lengthAdjust="spacingAndGlyphs">Data</text>
<text x="173.6" y="402" textLength="34.2" lengthAdjust="spacingAndGlyphs">(excluding</text>
<text x="211.2" y="402" textLength="28.4" lengthAdjust="spacingAndGlyphs">Strategic</text>
<text x="241.9" y="402" textLength="26.0" lengthAdjust="spacingAndGlyphs">Petroleu</text>
<text x="379.0" y="402" textLength="34.7" lengthAdjust="spacingAndGlyphs">Copyright©</text>
<text x="415.5" y="402" textLength="15.5" lengthAdjust="spacingAndGlyphs">2014</text>
<text x="433.3" y="402" textLength="33.8" lengthAdjust="spacingAndGlyphs">Bloomberg</text>
<text x="469.4" y="402" textLength="24.4" lengthAdjust="spacingAndGlyphs">Finance</text>
<text x="495.4" y="402" textLength="12.9" lengthAdjust="spacingAndGlyphs">L.P.</text>
<text x="619.7" y="402" textLength="39.3" lengthAdjust="spacingAndGlyphs">02-Jan-2014</text>
<text x="662.5" y="402" textLength="27.5" lengthAdjust="spacingAndGlyphs">11:50:32</text>
</g>
</svg></body></html>
